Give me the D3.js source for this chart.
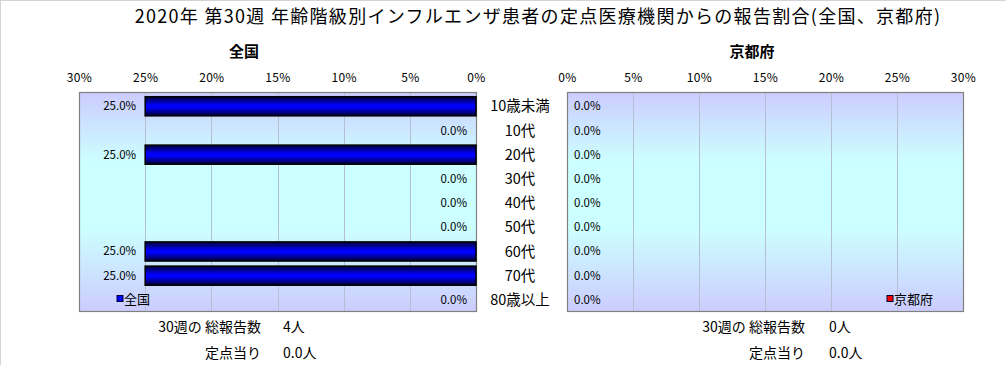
<!DOCTYPE html>
<html>
<head>
<meta charset="utf-8">
<script src="https://cdn.jsdelivr.net/npm/d3@7"></script>
<style>
  body { margin: 0; background: #fff; }
  svg { display: block; font-family: "Noto Sans CJK JP", "DejaVu Sans", sans-serif; }
</style>
</head>
<body>
<svg id="container"></svg>
<script>
// data
const titleText = "2020年 第30週 年齢階級別インフルエンザ患者の定点医療機関からの報告割合(全国、京都府)";
const ageGroups = ["10歳未満", "10代", "20代", "30代", "40代", "50代", "60代", "70代", "80歳以上"];
const zenkokuValues = [0.25, 0, 0.25, 0, 0, 0, 0.25, 0.25, 0];
const kyotoValues = [0, 0, 0, 0, 0, 0, 0, 0, 0];
const xTicks = [0, 0.05, 0.10, 0.15, 0.20, 0.25, 0.30];
const panelNames = ["全国", "京都府"];
const totalReports = ["4人", "0人"];
const perSentinel = ["0.0人", "0.0人"];

let width = 1006, height = 365;

let svg = d3.select("#container")
    .attr("width", width)
    .attr("height", height);

let defs = svg.append("defs");

// plot background: lavender -> cyan -> lavender
let bg = defs.append("linearGradient").attr("id", "bgGrad")
    .attr("x1", 0).attr("y1", 0).attr("x2", 0).attr("y2", 1);
bg.append("stop").attr("offset", "0%").attr("stop-color", "#ccccff");
bg.append("stop").attr("offset", "32%").attr("stop-color", "#ccffff");
bg.append("stop").attr("offset", "62%").attr("stop-color", "#ccffff");
bg.append("stop").attr("offset", "100%").attr("stop-color", "#ccccff");

// bar shading
let bar = defs.append("linearGradient").attr("id", "barGrad")
    .attr("x1", 0).attr("y1", 0).attr("x2", 0).attr("y2", 1);
bar.append("stop").attr("offset", "0%").attr("stop-color", "#000033");
bar.append("stop").attr("offset", "45%").attr("stop-color", "#0000ff");
bar.append("stop").attr("offset", "55%").attr("stop-color", "#0000ff");
bar.append("stop").attr("offset", "100%").attr("stop-color", "#000033");

// outer frame lines (top / left)
svg.append("line").attr("x1", 0).attr("y1", 0.5).attr("x2", width).attr("y2", 0.5)
    .attr("stroke", "#d4d4d4");
svg.append("line").attr("x1", 0.5).attr("y1", 0).attr("x2", 0.5).attr("y2", height)
    .attr("stroke", "#d4d4d4");

// title
svg.append("text")
    .attr("x", 538).attr("y", 23)
    .attr("text-anchor", "middle")
    .style("font-size", "18px")
    .style("letter-spacing", "1.3px")
    .text(titleText);

const plotTop = 92, plotBottom = 311;

const y = d3.scaleBand()
    .domain(ageGroups)
    .range([plotTop, plotBottom])
    .paddingInner(0.21)
    .paddingOuter(0.13)
    .align(0.75);

const xLeft = d3.scaleLinear().domain([0, 0.30]).range([476, 79]);
const xRight = d3.scaleLinear().domain([0, 0.30]).range([567, 963]);

const panels = [
    {scale: xLeft, values: zenkokuValues, name: panelNames[0], color: "#0000ff", dir: -1},
    {scale: xRight, values: kyotoValues, name: panelNames[1], color: "#ff0000", dir: 1}
];

panels.forEach((p, pi) => {
    let g = svg.append("g");
    let [r0, r1] = p.scale.range();
    let left = Math.min(r0, r1), right = Math.max(r0, r1);

    // background
    g.append("rect")
        .attr("x", left).attr("y", plotTop)
        .attr("width", right - left).attr("height", plotBottom - plotTop)
        .attr("fill", "url(#bgGrad)");

    // grid lines
    g.selectAll(".grid")
        .data(xTicks.slice(1, -1))
        .enter()
        .append("line")
            .attr("x1", d => Math.round(p.scale(d)) + 0.5)
            .attr("x2", d => Math.round(p.scale(d)) + 0.5)
            .attr("y1", plotTop)
            .attr("y2", plotBottom)
            .attr("stroke", "#b4c0d2");

    // border
    g.append("rect")
        .attr("x", left + 0.5).attr("y", plotTop + 0.5)
        .attr("width", right - left).attr("height", plotBottom - plotTop)
        .attr("fill", "none")
        .attr("stroke", "#808080")
        .attr("stroke-width", 1.2);

    // top axis
    g.append("g")
        .attr("transform", "translate(0," + plotTop + ")")
        .style("font-size", "12px")
        .call(d3.axisTop(p.scale).tickValues(xTicks).tickFormat(d3.format(".0%")).tickSize(0).tickPadding(10))
        .call(a => a.select(".domain").remove())
        .selectAll("text")
            .style("font-family", "'Noto Sans CJK JP', sans-serif")
            .style("letter-spacing", "0.3px")
            .attr("fill", "#000");

    // bars
    g.selectAll(".bar")
        .data(p.values.map((v, i) => ({v: v, cat: ageGroups[i]})).filter(d => d.v > 0))
        .enter()
        .append("rect")
            .attr("x", d => Math.min(p.scale(0), p.scale(d.v)))
            .attr("y", d => y(d.cat))
            .attr("width", d => Math.abs(p.scale(d.v) - p.scale(0)))
            .attr("height", y.bandwidth())
            .attr("fill", "url(#barGrad)")
            .attr("stroke", "#000")
            .attr("stroke-width", 1.5);

    // value labels
    g.selectAll(".lbl")
        .data(p.values.map((v, i) => ({v: v, cat: ageGroups[i]})))
        .enter()
        .append("text")
            .attr("x", d => p.dir < 0 ? p.scale(d.v) - 9 : p.scale(d.v) + 7)
            .attr("y", d => y(d.cat) + y.bandwidth() / 2)
            .attr("dy", "0.35em")
            .attr("text-anchor", p.dir < 0 ? "end" : "start")
            .style("font-size", "11.5px")
            .text(d => d3.format(".1%")(d.v));

    // panel title
    g.append("text")
        .attr("x", pi == 0 ? 244 : 752).attr("y", 57)
        .attr("text-anchor", "middle")
        .style("font-size", "15px")
        .style("font-weight", "bold")
        .text(p.name);

    // legend
    let lx = pi == 0 ? 117 : 887;
    g.append("rect")
        .attr("x", lx).attr("y", 295.5)
        .attr("width", 6).attr("height", 6)
        .attr("fill", p.color)
        .attr("stroke", "#000033").attr("stroke-width", 1);
    g.append("text")
        .attr("x", lx + 7).attr("y", 299)
        .attr("dy", "0.35em")
        .style("font-size", "13px")
        .text(p.name);

    // summary
    let sx = pi == 0 ? 261 : 805;
    let vx = pi == 0 ? 283 : 829;
    g.append("text").attr("x", sx).attr("y", 327).attr("dy", "0.35em")
        .attr("text-anchor", "end").style("font-size", "14px").text("30週の 総報告数");
    g.append("text").attr("x", vx).attr("y", 327).attr("dy", "0.35em")
        .style("font-size", "14px").text(totalReports[pi]);
    g.append("text").attr("x", sx).attr("y", 353).attr("dy", "0.35em")
        .attr("text-anchor", "end").style("font-size", "14px").text("定点当り");
    g.append("text").attr("x", vx).attr("y", 353).attr("dy", "0.35em")
        .style("font-size", "14px").text(perSentinel[pi]);
});

// category labels between panels
svg.append("g")
    .selectAll("text")
    .data(ageGroups)
    .enter()
    .append("text")
        .attr("x", 520)
        .attr("y", d => y(d) + y.bandwidth() / 2)
        .attr("dy", "0.35em")
        .attr("text-anchor", "middle")
        .style("font-size", "14.5px")
        .text(d => d);
</script>
</body>
</html>
